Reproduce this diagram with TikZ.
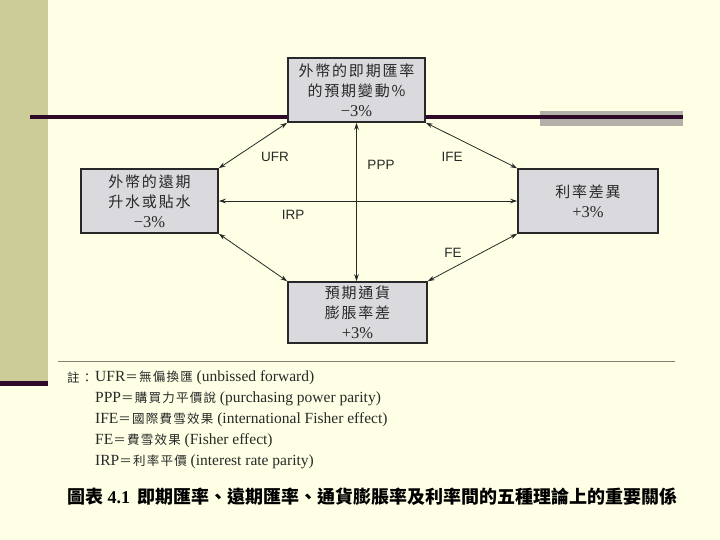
\documentclass[tikz,border=0pt]{standalone}
\usepackage{fontspec}
\setmainfont{Liberation Serif}
\newfontfamily\cjk{Noto Sans CJK TC}
\newfontfamily\cjksp{Noto Sans CJK TC}[LetterSpace=12]
\newfontfamily\cjknote{Noto Sans CJK TC}[LetterSpace=10]
\newfontfamily\sansf{Liberation Sans}
\usetikzlibrary{arrows.meta}
\definecolor{bg}{RGB}{255,255,229}
\definecolor{stripe}{RGB}{204,204,153}
\definecolor{darkline}{RGB}{46,10,40}
\definecolor{grayrect}{RGB}{178,176,168}
\definecolor{boxfill}{RGB}{218,218,222}
\definecolor{ink}{RGB}{40,40,40}
\definecolor{sepline}{RGB}{128,128,120}
\newcommand{\pct}[1]{{\rmfamily\fontsize{16.5}{20}\selectfont #1}}
\newcommand{\ncjk}[1]{{\cjknote\fontsize{12.5}{14}\selectfont #1}}
\begin{document}
\begin{tikzpicture}[x=1pt,y=-1pt,
  box/.style={draw=ink, line width=1.5pt, fill=boxfill, align=center, inner sep=0pt,
    font=\cjksp\fontsize{15}{20}\selectfont, text=ink},
  arr/.style={draw=ink, line width=0.8pt, {Stealth[length=7pt,width=4.5pt]}-{Stealth[length=7pt,width=4.5pt]}},
  lab/.style={font=\sansf\fontsize{13.5}{16}\selectfont, text=ink},
  note/.style={anchor=west, inner sep=0pt, font=\fontsize{15.5}{18}\selectfont, text=ink}]
\useasboundingbox (0,0) rectangle (720,540);
\fill[bg] (0,0) rectangle (720,540);
\fill[stripe] (0,0) rectangle (48,383);
\fill[darkline] (0,381) rectangle (48,386);
\fill[grayrect] (540,111) rectangle (683,126);
\draw[darkline, line width=3.5pt] (30,117) -- (683,117);
\draw[sepline, line width=1pt] (58,361) -- (675,361);

\node[box, minimum width=137pt, minimum height=64pt] (top) at (356.5,90)
  {外幣的即期匯率\\的預期變動\%\\\pct{−3\%}};
\node[box, minimum width=137pt, minimum height=64pt] (left) at (149.5,201)
  {外幣的遠期\\升水或貼水\\\pct{−3\%}};
\node[box, minimum width=140pt, minimum height=64pt] (right) at (588,201)
  {利率差異\\\pct{+3\%}};
\node[box, minimum width=139pt, minimum height=61pt] (bottom) at (357.5,312.5)
  {預期通貨\\膨脹率差\\\pct{+3\%}};

\draw[arr] (top.south west) -- (left.north east);
\draw[arr] (top.south east) -- (right.north west);
\draw[arr] (left.south east) -- (bottom.north west);
\draw[arr] (right.south west) -- (bottom.north east);
\draw[arr] (top.south) -- (top.south |- bottom.north);
\draw[arr] (left.east) -- (right.west);

\node[lab] (ufr) at (275,157) {UFR};
\node[lab] (ppp) at (381,165) {PPP};
\node[lab] (ife) at (452,157) {IFE};
\node[lab] (irp) at (293,215) {IRP};
\node[lab] (fe) at (453,253) {FE};

\node[note] (n0) at (67,378) {\ncjk{註：}};
\node[note] (n1) at (95,378) {UFR\ncjk{＝無偏換匯} (unbissed forward)};
\node[note] (n2) at (95,399) {PPP\ncjk{＝購買力平價說} (purchasing power parity)};
\node[note] (n3) at (95,420) {IFE\ncjk{＝國際費雪效果} (international Fisher effect)};
\node[note] (n4) at (95,441) {FE\ncjk{＝費雪效果} (Fisher effect)};
\node[note] (n5) at (95,462) {IRP\ncjk{＝利率平價} (interest rate parity)};

\node[anchor=west, inner sep=0pt, font=\fontsize{18}{20}\selectfont\bfseries, text=black] (title) at (67,497)
  {{\cjk 圖表} 4.1\hspace{7pt}{\cjk 即期匯率、遠期匯率、通貨膨脹率及利率間的五種理論上的重要關係}};
\end{tikzpicture}
\end{document}
